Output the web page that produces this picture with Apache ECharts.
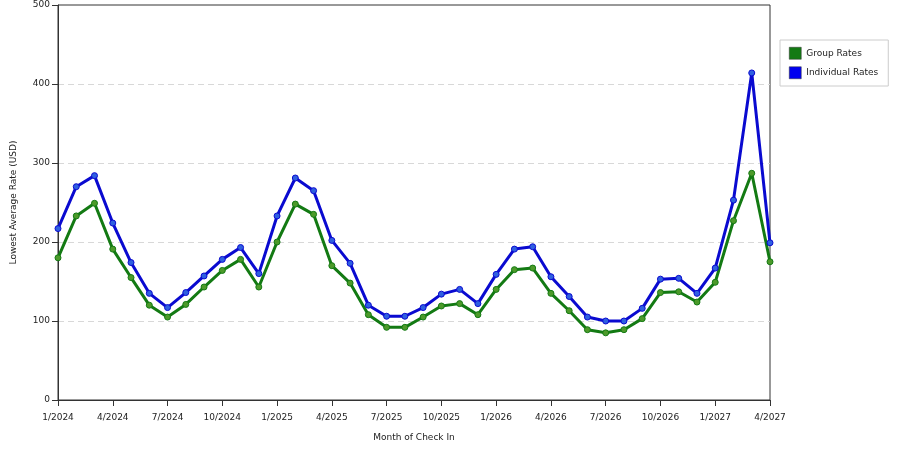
<!DOCTYPE html>
<html lang="en">
<head>
    <meta charset="UTF-8">
    <title>rates</title>
    <script src="https://cdn.jsdelivr.net/npm/echarts@6/dist/echarts.min.js"></script>
    <style>
        html, body { margin: 0; padding: 0; background: #fff; }
    </style>
</head>
<body>
<div id="main" style="width: 900px;height:450px;"></div>
<script>
    // months of check in, 1/2024 .. 4/2027
    var months = [];
    for (var y = 2024; y <= 2027; y++) {
        for (var m = 1; m <= 12; m++) {
            if (y == 2027 && m > 4) break;
            months.push(m + '/' + y);
        }
    }
    var groupRates = [180, 233, 249, 191, 155, 120, 105, 121, 143, 164, 178, 143,
        200, 248, 235, 170, 148, 108, 92, 92, 105, 119, 122, 108,
        140, 165, 167, 135, 113, 89, 85, 89, 103, 136, 137, 124,
        149, 227, 287, 175];
    var individualRates = [217, 270, 284, 224, 174, 135, 117, 136, 157, 178, 193, 160,
        233, 281, 265, 202, 173, 120, 106, 106, 117, 134, 140, 122,
        159, 191, 194, 156, 131, 105, 100, 100, 116, 153, 154, 135,
        167, 253, 414, 199];
    var yTicks = [0, 100, 200, 300, 400, 500];

    var myChart = echarts.init(document.getElementById('main'));
    var font = 'DejaVu Sans';

    function makeSeries(name, data, lineColor, dotColor) {
        return {
            name: name,
            type: 'line',
            data: data,
            symbol: 'circle',
            symbolSize: 6,
            lineStyle: { color: lineColor, width: 3 },
            itemStyle: { color: dotColor, borderColor: lineColor, borderWidth: 1 },
            emphasis: { disabled: true },
            animation: false
        };
    }

    var option = {
        backgroundColor: '#fff',
        animation: false,
        grid: {
            left: 58, right: 130, top: 5, bottom: 50,
            show: true, borderColor: '#333', borderWidth: 1, backgroundColor: 'transparent'
        },
        legend: {
            orient: 'vertical',
            left: 780, top: 40,
            padding: [7, 10, 7, 9],
            itemGap: 7,
            itemWidth: 12, itemHeight: 12,
            borderColor: '#ccc', borderWidth: 1,
            icon: 'rect',
            textStyle: { fontFamily: font, fontSize: 9, color: '#222' },
            data: [
                { name: 'Group Rates', itemStyle: { color: '#137a13', borderColor: '#333', borderWidth: 0.5 } },
                { name: 'Individual Rates', itemStyle: { color: '#0000f0', borderColor: '#333', borderWidth: 0.5 } }
            ]
        },
        xAxis: {
            type: 'category',
            data: months,
            boundaryGap: false,
            name: 'Month of Check In',
            nameLocation: 'middle',
            nameGap: 33,
            nameTextStyle: { fontFamily: font, fontSize: 9, color: '#222' },
            axisLine: { lineStyle: { color: '#333' } },
            axisTick: { interval: 2, length: 6, lineStyle: { color: '#333' } },
            axisLabel: { interval: 2, fontFamily: font, fontSize: 9, color: '#222', margin: 13 },
            splitLine: { show: false }
        },
        yAxis: {
            type: 'value',
            min: yTicks[0],
            max: yTicks[yTicks.length - 1],
            interval: 100,
            name: 'Lowest Average Rate (USD)',
            nameLocation: 'middle',
            nameGap: 40,
            nameTextStyle: { fontFamily: font, fontSize: 9, color: '#222' },
            axisLine: { show: true, lineStyle: { color: '#333' } },
            axisTick: { show: true, length: 6, lineStyle: { color: '#333' } },
            axisLabel: { fontFamily: font, fontSize: 9, color: '#222', margin: 8 },
            splitLine: { show: true, showMaxLine: false, lineStyle: { color: '#d8d8d8', type: [6, 4] } }
        },
        series: [
            makeSeries('Group Rates', groupRates, '#137a13', '#4c9a2a'),
            makeSeries('Individual Rates', individualRates, '#0a0ad0', '#2f5fe0')
        ]
    };
    myChart.setOption(option);
</script>
</body>
</html>
